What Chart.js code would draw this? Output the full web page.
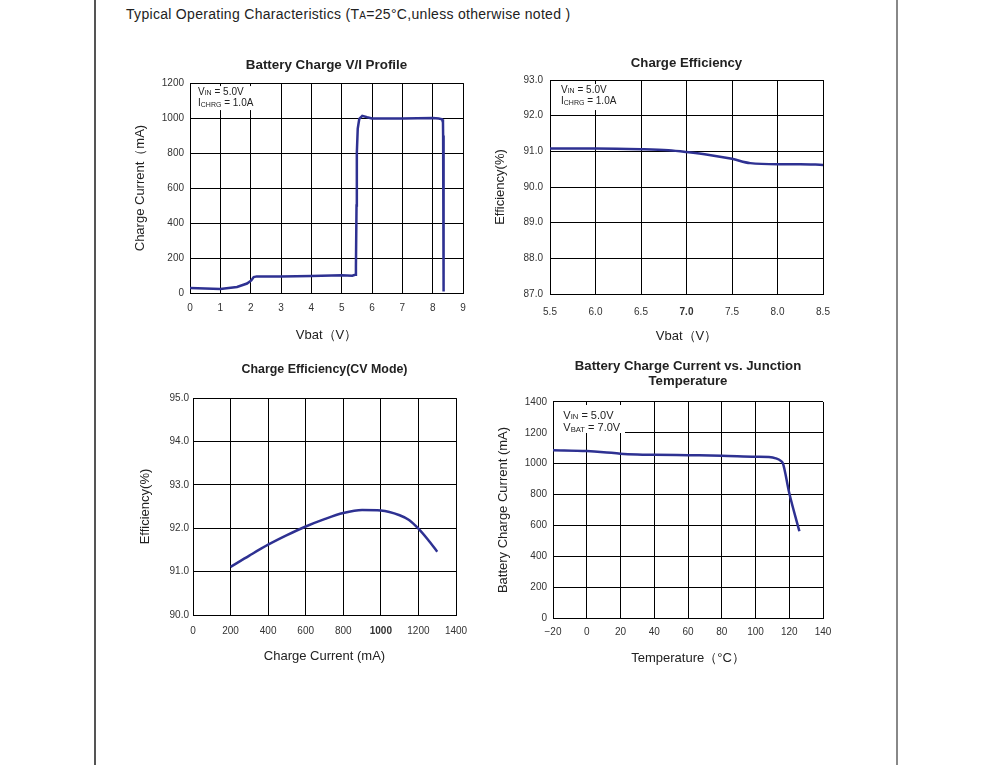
<!DOCTYPE html>
<html>
<head>
<meta charset="utf-8">
<script src="https://cdn.jsdelivr.net/npm/chart.js@4.4.1/dist/chart.umd.min.js"></script>
<style>
  body { margin: 0; background: #fff; }
  #page { position: relative; width: 991px; height: 765px; overflow: hidden; background: #fff; }
  .edge { position: absolute; top: 0; height: 765px; }
  #hdr { position: absolute; left: 126px; top: 6px; line-height: 19px; font: 14px 'Liberation Sans', Arial, sans-serif; letter-spacing: 0.3px; color: #222; white-space: nowrap; }
  #hdr .sc { font-size: 10px; }
  canvas { position: absolute; }
</style>
</head>
<body>
<div id="page">
  <div class="edge" style="left:94px;width:2px;background:#555;"></div>
  <div class="edge" style="left:896px;width:1.5px;background:#888;"></div>
  <div id="hdr">Typical Operating Characteristics (T<span class="sc">A</span>=25°C,unless otherwise noted )</div>
  <canvas id="c1" width="370" height="305" style="left:110px;top:45px;"></canvas>
  <canvas id="c2" width="370" height="305" style="left:480px;top:45px;"></canvas>
  <canvas id="c3" width="370" height="320" style="left:110px;top:350px;"></canvas>
  <canvas id="c4" width="370" height="320" style="left:480px;top:350px;"></canvas>
</div>
<script>
const FONT = "'Liberation Sans', Arial, sans-serif";
const LINE = '#2e3192';

// Battery Charge V/I Profile
const viVbat    = [0, 0.5, 1, 1.55, 1.88, 2.02, 2.1, 2.2, 3, 4, 5, 5.35, 5.44, 5.47, 5.49, 5.5, 5.53, 5.58, 5.68, 5.84, 6, 7, 8, 8.2, 8.31, 8.34, 8.345, 8.35, 8.36, 8.37];
const viCurrent = [28, 26, 23, 34, 54, 72, 91, 95, 95, 97, 101, 99, 104, 150, 500, 800, 940, 995, 1013, 1005, 998, 998, 1000, 998, 993, 975, 900, 500, 100, 8];

// Charge Efficiency vs Vbat
const effVbat  = [5.5, 6.0, 6.5, 6.8, 7.0, 7.25, 7.5, 7.7, 8.0, 8.25, 8.5];
const effValue = [91.08, 91.08, 91.06, 91.03, 90.98, 90.9, 90.79, 90.67, 90.64, 90.64, 90.62];

// Charge Efficiency (CV Mode)
const cvCurrent = [200, 300, 400, 500, 600, 700, 800, 900, 1000, 1100, 1150, 1200, 1250, 1300];
const cvEff     = [91.11, 91.37, 91.62, 91.84, 92.04, 92.21, 92.35, 92.42, 92.41, 92.3, 92.19, 91.99, 91.74, 91.46];

// Battery Charge Current vs Junction Temperature
const tempC       = [-20, 0, 10, 20, 30, 40, 60, 80, 100, 108, 112, 115, 116.3, 120, 126];
const tempCurrent = [1087, 1082, 1075, 1065, 1060, 1058, 1055, 1052, 1045, 1043, 1035, 1018, 1000, 810, 562];

const pts = (xs, ys) => xs.map((x, i) => ({ x: x, y: ys[i] }));

// white box with V_IN style notes
const notePlugin = {
  id: 'note',
  beforeDatasetsDraw(chart, args, opts) {
    if (!opts.lines) return;
    const ctx = chart.ctx, a = chart.chartArea;
    ctx.save();
    ctx.fillStyle = '#fff';
    ctx.fillRect(a.left + opts.box[0], a.top + opts.box[1], opts.box[2], opts.box[3]);
    ctx.fillStyle = '#222';
    ctx.textBaseline = 'alphabetic';
    opts.lines.forEach((ln, i) => {
      let x = a.left + opts.x;
      const y = a.top + opts.y + i * opts.gap + opts.size * 0.36;
      ctx.font = opts.size + 'px ' + FONT;
      ctx.fillText(ln[0], x, y);
      x += ctx.measureText(ln[0]).width;
      ctx.font = (opts.size * 0.7) + 'px ' + FONT;
      ctx.fillText(ln[1], x, y + 0.5);
      x += ctx.measureText(ln[1]).width;
      ctx.font = opts.size + 'px ' + FONT;
      ctx.fillText(ln[2], x, y);
    });
    ctx.restore();
  }
};

function makeChart(id, cfg) {
  const tickFont = (boldVal) => (c) => ({
    family: FONT, size: 10,
    weight: (c.tick && boldVal !== undefined && c.tick.value === boldVal) ? 'bold' : 'normal'
  });
  return new Chart(document.getElementById(id), {
    type: 'scatter',
    data: {
      datasets: [{
        data: cfg.data,
        showLine: true,
        borderColor: LINE,
        borderWidth: 2.5,
        pointRadius: 0,
        tension: cfg.smooth ? 0.4 : 0,
        cubicInterpolationMode: cfg.smooth ? 'monotone' : 'default'
      }]
    },
    options: {
      responsive: false,
      animation: false,
      layout: { padding: { left: 0, right: cfg.padRight, top: 0, bottom: 0 } },
      plugins: {
        legend: { display: false },
        tooltip: { enabled: false },
        title: {
          display: true,
          text: cfg.title,
          fullSize: false,
          color: '#222',
          font: { family: FONT, size: cfg.titleSize, weight: 'bold', lineHeight: cfg.titleLH || 1.2 },
          padding: cfg.titlePad
        },
        note: cfg.note
      },
      scales: {
        x: {
          type: 'linear',
          min: cfg.x.min, max: cfg.x.max,
          afterFit: (s) => { s.height = cfg.x.height; },
          grid: { color: '#000', lineWidth: 1, drawTicks: false },
          border: { color: '#000', width: 1 },
          ticks: {
            stepSize: cfg.x.step,
            padding: cfg.x.tickPad,
            color: '#333',
            font: tickFont(cfg.x.bold),
            maxRotation: 0,
            autoSkip: false,
            callback: cfg.x.fmt
          },
          title: {
            display: true, text: cfg.x.title, color: '#222',
            font: { family: FONT, size: 13 },
            padding: { top: 0, bottom: cfg.x.titlePad }
          }
        },
        y: {
          type: 'linear',
          min: cfg.y.min, max: cfg.y.max,
          afterFit: (s) => { s.width = cfg.y.width; },
          grid: { color: '#000', lineWidth: 1, drawTicks: false },
          border: { color: '#000', width: 1 },
          ticks: {
            stepSize: cfg.y.step,
            padding: cfg.y.tickPad,
            color: '#333',
            font: tickFont(undefined),
            callback: cfg.y.fmt
          },
          title: {
            display: true, text: cfg.y.title, color: '#222',
            font: { family: FONT, size: 13 },
            padding: { top: cfg.y.titlePad, bottom: 0 }
          }
        }
      }
    },
    plugins: [notePlugin]
  });
}

const fix1 = (v) => Number(v).toFixed(1);
const plain = (v) => String(v);

makeChart('c1', {
  data: pts(viVbat, viCurrent),
  smooth: false,
  padRight: 17,
  title: 'Battery Charge V/I Profile', titleSize: 13.4,
  titlePad: { top: 12, bottom: 10 },
  note: { box: [1, 3, 63, 24], x: 8, y: 8.3, gap: 11.5, size: 10,
          lines: [['V', 'IN', ' = 5.0V'], ['I', 'CHRG', ' = 1.0A']] },
  x: { min: 0, max: 9, step: 1, height: 57, tickPad: 9, title: 'Vbat（V）', titlePad: 7.2, fmt: plain },
  y: { min: 0, max: 1200, step: 200, width: 80, tickPad: 6, title: 'Charge Current（mA)', titlePad: 22.9, fmt: plain }
});

makeChart('c2', {
  data: pts(effVbat, effValue),
  smooth: true,
  padRight: 27,
  title: 'Charge Efficiency', titleSize: 13.2,
  titlePad: { top: 10.4, bottom: 8.8 },
  note: { box: [1, 4, 78, 26], x: 11, y: 9.3, gap: 11.5, size: 10,
          lines: [['V', 'IN', ' = 5.0V'], ['I', 'CHRG', ' = 1.0A']] },
  x: { min: 5.5, max: 8.5, step: 0.5, height: 56, tickPad: 12, title: 'Vbat（V）', titlePad: 5.5, fmt: fix1, bold: 7 },
  y: { min: 87, max: 93, step: 1, width: 70, tickPad: 7, title: 'Efficiency(%)', titlePad: 12.2, fmt: fix1 }
});

makeChart('c3', {
  data: pts(cvCurrent, cvEff),
  smooth: true,
  padRight: 24,
  title: 'Charge Efficiency(CV Mode)', titleSize: 12.4,
  titlePad: { top: 12.6, bottom: 20.6 },
  note: {},
  x: { min: 0, max: 1400, step: 200, height: 55, tickPad: 10.3, title: 'Charge Current (mA)', titlePad: 5.5, fmt: plain, bold: 1000 },
  y: { min: 90, max: 95, step: 1, width: 83, tickPad: 4, title: 'Efficiency(%)', titlePad: 27.2, fmt: fix1 }
});

makeChart('c4', {
  data: pts(tempC, tempCurrent),
  smooth: true,
  padRight: 27,
  title: ['Battery Charge Current vs. Junction', 'Temperature'], titleSize: 13.2, titleLH: 1.14,
  titlePad: { top: 9.2, bottom: 12.7 },
  note: { box: [1, 3, 71, 28], x: 10.3, y: 12.7, gap: 12.6, size: 11,
          lines: [['V', 'IN', ' = 5.0V'], ['V', 'BAT', ' = 7.0V']] },
  x: { min: -20, max: 140, step: 20, height: 52, tickPad: 8.6, title: 'Temperature（°C）', titlePad: 3.9,
       fmt: (v) => v < 0 ? '\u2212' + Math.abs(v) : String(v) },
  y: { min: 0, max: 1400, step: 200, width: 73, tickPad: 6, title: 'Battery Charge Current (mA)', titlePad: 15.5, fmt: plain }
});
</script>
</body>
</html>
